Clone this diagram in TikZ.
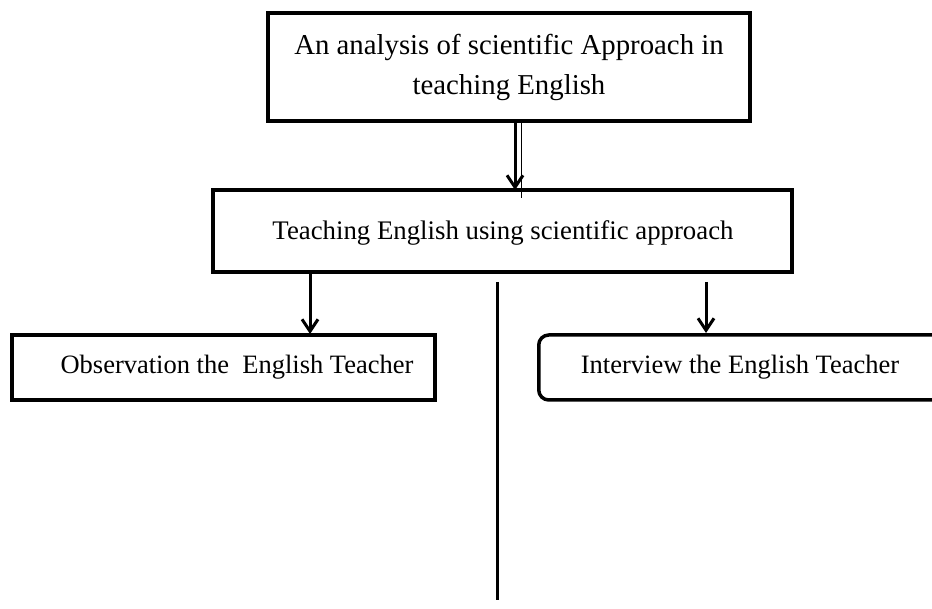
\documentclass[tikz,border=0pt]{standalone}
\usepackage{fontspec}
\setmainfont{Liberation Serif}
\usetikzlibrary{arrows.meta}
\begin{document}
\begin{tikzpicture}[x=1pt,y=-1pt,
  box/.style={draw=black,line width=3.5pt,fill=white,inner sep=0pt},
  rbox/.style={box,rounded corners=10pt},
  txt/.style={font=\fontsize{26.5}{30}\selectfont},
  conn/.style={line width=3pt,-{Straight Barb[length=12pt,width=16pt,line width=3pt]}},
  plain/.style={line width=3pt}]
\useasboundingbox (0,0) rectangle (932,609);
\fill[white] (0,0) rectangle (932,609);
% boxes
\node[box,minimum width=482pt,minimum height=108pt,align=center,font=\fontsize{28.8}{40}\selectfont] (top) at (509,67)
  {An analysis of scientific Approach in\\teaching English};
\node[box,minimum width=579pt,minimum height=82pt] (mid) at (502.5,231) {};
\node[txt,font=\fontsize{26.8}{30}\selectfont] (midt) at (503,233) {Teaching English using scientific approach};
\node[box,minimum width=423pt,minimum height=65pt] (obs) at (223.5,367.5) {};
\node[txt] (obst) at (237,367) {Observation the\ \ English Teacher};
\node[rbox,minimum width=420pt,minimum height=65pt,anchor=west] (int) at (537,367.5) {};
\node[txt] (intt) at (740,367) {Interview the English Teacher};
% connectors
\coordinate (a1) at (515,122);
\coordinate (a2) at (515,190);
\draw[conn] (a1) -- (a2);
\draw[line width=1pt] ([xshift=6pt]a1) -- ([xshift=6pt,yshift=-8pt]a2);
\coordinate (b1) at (310,272);
\coordinate (b2) at (310,334);
\draw[conn] (b1) -- (b2);
\coordinate (c1) at (706,282);
\coordinate (c2) at (706,333);
\draw[conn] (c1) -- (c2);
\coordinate (d1) at (497,282);
\coordinate (d2) at (497,600);
\draw[plain] (d1) -- (d2);
\end{tikzpicture}
\end{document}
